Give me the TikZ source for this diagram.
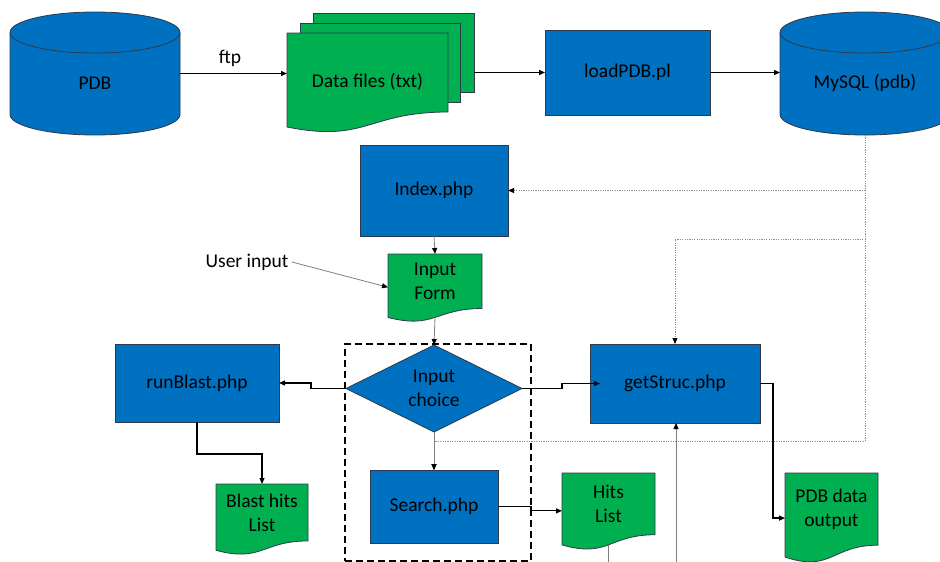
\documentclass[tikz,border=0pt]{standalone}
\usepackage{fontspec}
\setmainfont{Carlito}
\usetikzlibrary{arrows.meta,shapes.geometric,calc}

\definecolor{procblue}{HTML}{0070C0}
\definecolor{docgreen}{HTML}{00B050}
\definecolor{edge}{HTML}{2F3A48}
\definecolor{linegray}{HTML}{7F7F7F}
\definecolor{dotgray}{HTML}{8C8C8C}

\tikzset{
  base/.style={font=\fontsize{19.5}{24}\selectfont, text=black},
  hit/.style={inner sep=0pt, outer sep=0pt},
  proc/.style={base, draw=edge, line width=0.8pt, fill=procblue, inner sep=0pt, outer sep=0pt},
  backsheet/.style={draw=edge, line width=0.8pt, fill=docgreen, inner sep=0pt, outer sep=0pt},
  decide/.style={proc, diamond, aspect=2, align=center},
  sheet/.style={draw=edge, line width=0.8pt, fill=docgreen},
  sheettext/.style={base, inner sep=0pt, outer sep=0pt, align=center},
  drum/.style={draw=edge, line width=0.8pt, fill=procblue},
  tip/.style={-{Triangle[length=6pt,width=5pt,color=black]}},
  arr/.style={draw=black, line width=1.2pt, tip},
  thinarr/.style={draw=linegray, line width=0.8pt, tip},
  thinline/.style={draw=linegray, line width=0.8pt},
  dotline/.style={draw=dotgray, line width=1pt, dash pattern=on 1.2pt off 1.2pt},
  groupframe/.style={draw=black, line width=2.4pt, dash pattern=on 7pt off 4pt},
}

% document sheet with a wavy lower edge: name, left, top, width, height, text
\newcommand{\docsheet}[6]{%
  \draw[sheet] (#2,-#3) -- ({#2+#4},-#3) -- ({#2+#4},{-#3-0.802*#5})
    .. controls ({#2+0.5*#4},{-#3-0.802*#5}) and ({#2+0.5*#4},{-#3-1.107*#5})
    .. ({#2},{-#3-0.934*#5}) -- cycle;
  \node[sheettext, minimum width=#4pt, minimum height=0.802*#5pt] (#1)
    at ({#2+0.5*#4},{-#3-0.401*#5}) {#6};
  \coordinate (#1-b) at ({#2+0.5*#4},{-#3-0.933*#5});
}

% database drum: centre x, left x, right x, name, text
\newcommand{\drumshape}[5]{%
  \draw[drum] (#2,-32.5) -- (#2,-114.5)
    arc[start angle=180, end angle=360, x radius=85pt, y radius=20.5pt]
    -- (#3,-32.5);
  \draw[drum] (#1,-32.5) ellipse[x radius=85pt, y radius=20.5pt];
  \node[hit, minimum width=170pt, minimum height=123pt] (#4) at (#1,-73.5) {};
  \node[base] (#4-label) at (#1,-83) {#5};
}

\begin{document}
\begin{tikzpicture}[x=1pt, y=1pt]
\useasboundingbox (0,0) rectangle (940,-562);

% --- top row: data import ---
\drumshape{95}{10}{180}{pdb}{PDB}

% stack of three data sheets, back to front
\node[backsheet, minimum width=161pt, minimum height=79pt] (files3) at (393.5,-52.5) {};
\node[backsheet, minimum width=160pt, minimum height=79pt] (files2) at (380,-62.5) {};
\draw[sheet] (287,-33) -- (448,-33) -- (448,-112)
  .. controls (367,-112) and (367,-143) .. (287,-127) -- cycle;
\node[sheettext, minimum width=161pt] (files1) at (367.5,-82) {Data files (txt)};

\node[proc, minimum width=165pt, minimum height=85pt] (load) at (627.5,-72.5) {loadPDB.pl};

\drumshape{865}{780}{950}{mysql}{MySQL (pdb)}

\node[base] (ftp) at (230,-58) {ftp};
\draw[arr] (pdb.east) -- (files1.west |- pdb.east);
\draw[arr] (files3.east |- load.west) -- (load.west);
\draw[arr] (load.east) -- (mysql.west |- load.east);

% --- web front end ---
\node[proc, minimum width=148pt, minimum height=91pt] (index) at (434,-190.5) {Index.php};
\docsheet{inform}{388}{254}{94}{68}{Input\\Form}
\node[base] (user) at (247,-262) {User input};

\node[decide, minimum width=176pt, minimum height=87pt] (choice) at (434,-388.5) {Input\\choice};
\node[groupframe, minimum width=186pt, minimum height=217pt] (choicegroup) at (438,-452.5) {};

\node[proc, minimum width=164pt, minimum height=78pt] (runblast) at (197,-383) {runBlast.php};
\node[proc, minimum width=170pt, minimum height=79pt] (getstruc) at (675,-383.5) {getStruc.php};
\node[proc, minimum width=128pt, minimum height=73pt] (search) at (434,-506.5) {Search.php};

\docsheet{blast}{216}{484}{92}{71}{Blast hits\\List}
\docsheet{hits}{562}{473}{93}{77}{Hits\\List}
\docsheet{pdbout}{785}{473}{93}{90}{PDB data\\output}

% database lookups
\coordinate (dbsplit) at (865,-239);
\coordinate (dbfoot) at (865,-441);
\draw[dotline, tip] (mysql.south) |- (index.east);
\draw[dotline, tip] (mysql.south) -- (dbsplit) -| (getstruc.north);
\draw[dotline, tip] (mysql.south) -- (dbfoot) -| (search.north);

% page flow
\draw[thinarr] (index.south) -- (inform.north);
\draw[thinarr] (user.east) -- ([yshift=-6pt]inform.west);
\draw[thinarr] (inform-b) -- (choice.north);
\draw[thinarr] (choice.south) -- (search.north);

\draw[arr] (choice.west) -- ++(-35,0) |- (runblast.east);
\draw[arr] (choice.east) -- ++(40,0) |- ([xshift=10pt]getstruc.west);
\draw[arr] (runblast.south) -- ++(0,-32) -| (blast.north);
\draw[arr] (search.east) -- ++(33,0) |- ([yshift=-7pt]hits.west);
\draw[arr] (getstruc.east) -- ++(13,0) |- ([yshift=-9pt]pdbout.west);

\coordinate (gsfeed) at (676,-575);
\coordinate (hitsout) at (608,-575);
\draw[thinarr] (gsfeed) -- (getstruc.south -| gsfeed);
\draw[thinline] (hits-b -| hitsout) -- (hitsout);
\end{tikzpicture}
\end{document}
